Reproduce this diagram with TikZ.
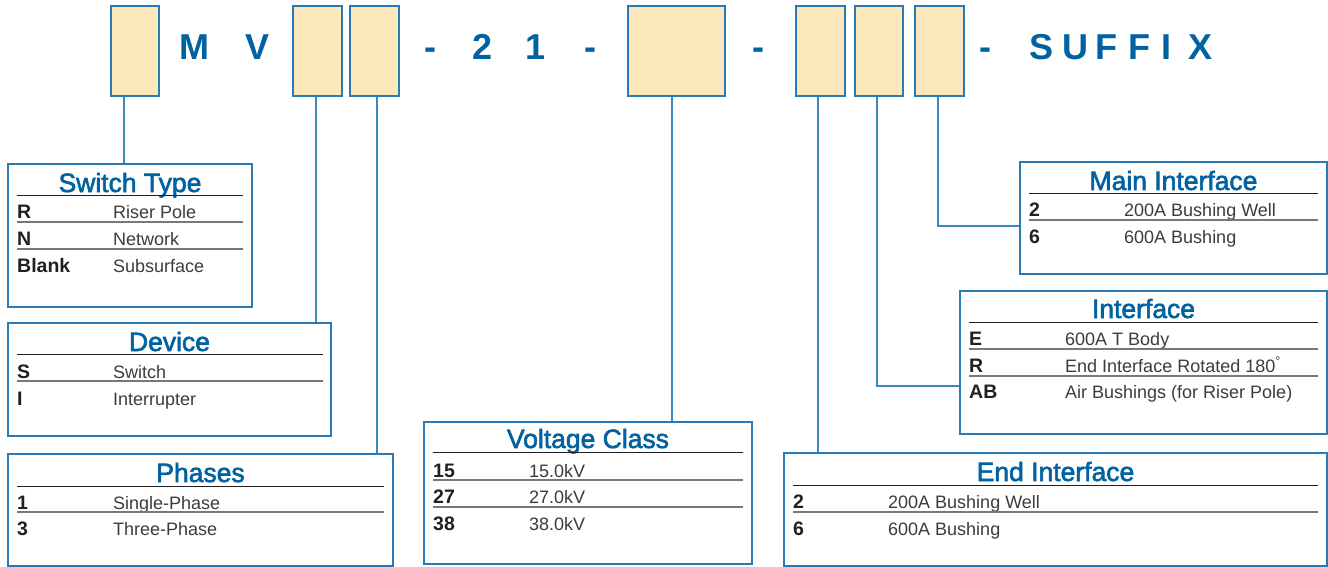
\documentclass[tikz,border=0pt]{standalone}
\usepackage{fontspec}
\setmainfont{Liberation Sans}
\newfontfamily\medfont[FakeBold=2.2]{Liberation Sans}
\definecolor{textblue}{RGB}{0,98,160}
\definecolor{boxblue}{RGB}{40,122,182}
\definecolor{lineblue}{RGB}{58,137,196}
\definecolor{peach}{RGB}{253,232,188}
\definecolor{keyblack}{RGB}{35,31,32}
\definecolor{descgray}{RGB}{60,60,60}
\definecolor{rulegray}{RGB}{120,120,120}
\tikzset{
 codebox/.style={draw=boxblue, fill=peach, line width=1.2pt, inner sep=0, minimum height=90},
 tabbox/.style={draw=boxblue, fill=white, line width=1.2pt, inner sep=0},
 conn/.style={draw=lineblue, line width=1.3pt},
 bigch/.style={text=textblue, font=\fontsize{36}{36}\selectfont\bfseries, inner sep=0, anchor=base},
 ttl/.style={text=textblue, font=\medfont\fontsize{26.5}{30}\selectfont, inner sep=0, anchor=base},
 keytxt/.style={text=keyblack, font=\fontsize{19.5}{20}\selectfont\bfseries, inner sep=0, anchor=base west},
 desctxt/.style={text=descgray, font=\fontsize{18}{20}\selectfont, inner sep=0, anchor=base west},
 tline/.style={draw=keyblack, line width=1pt},
 rline/.style={draw=rulegray, line width=1.2pt},
}
\begin{document}
\begin{tikzpicture}[x=1pt,y=-1pt]
\useasboundingbox[fill=white] (0,0) rectangle (1328,567);
% code boxes
\node[codebox, minimum width=48] (b1) at (135,51) {};
\node[codebox, minimum width=49] (b2) at (317.5,51) {};
\node[codebox, minimum width=49] (b3) at (374.5,51) {};
\node[codebox, minimum width=97] (b4) at (676.5,51) {};
\node[codebox, minimum width=49] (b5) at (820.5,51) {};
\node[codebox, minimum width=48] (b6) at (879,51) {};
\node[codebox, minimum width=49] (b7) at (939.5,51) {};
% code characters
\node[bigch] (cM) at (194,60) {M};
\node[bigch] (cV) at (258,60) {V};
\node[bigch] (d1) at (430,60) {-};
\node[bigch] (c2) at (482.5,60) {2};
\node[bigch] (c1) at (536,60) {1};
\node[bigch] (d2) at (590,60) {-};
\node[bigch] (d3) at (758,60) {-};
\node[bigch] (d4) at (985.5,60) {-};
\node[bigch] (s1) at (1041.5,60) {S};
\node[bigch] (s2) at (1075,60) {U};
\node[bigch] (s3) at (1106,60) {F};
\node[bigch] (s4) at (1139,60) {F};
\node[bigch] (s5) at (1166.5,60) {I};
\node[bigch] (s6) at (1200,60) {X};
% table boxes
\node[tabbox, minimum width=244, minimum height=143] (st) at (130,235.5) {};
\node[tabbox, minimum width=323, minimum height=113] (dev) at (169.5,379.5) {};
\node[tabbox, minimum width=385, minimum height=112] (ph) at (200.5,510) {};
\node[tabbox, minimum width=328, minimum height=142] (vc) at (588,493) {};
\node[tabbox, minimum width=307, minimum height=112] (mi) at (1173.5,218) {};
\node[tabbox, minimum width=367, minimum height=143] (itf) at (1143.5,362.5) {};
\node[tabbox, minimum width=543, minimum height=113] (ei) at (1055.5,509.5) {};
% connectors
\coordinate (x1) at (124,0);
\coordinate (x2) at (316,0);
\coordinate (x3) at (377,0);
\coordinate (x4) at (672,0);
\coordinate (x5) at (818,0);
\coordinate (x6) at (877,386);
\coordinate (x7) at (938,226);
\draw[conn] (b1.south -| x1) -- (st.north -| x1);
\draw[conn] (b2.south -| x2) -- (dev.north -| x2);
\draw[conn] (b3.south -| x3) -- (ph.north -| x3);
\draw[conn] (b4.south -| x4) -- (vc.north -| x4);
\draw[conn] (b5.south -| x5) -- (ei.north -| x5);
\draw[conn] (b6.south -| x6) |- (itf.west |- x6);
\draw[conn] (b7.south -| x7) |- (mi.west |- x7);
% Switch Type
\node[ttl] (stt) at (130,192) {Switch Type};
\draw[tline] (17,195) -- (243,195);
\node[keytxt] (stk1) at (17,218) {R};
\node[desctxt] (std1) at (113,218) {Riser Pole};
\draw[rline] (17,222) -- (243,222);
\node[keytxt] (stk2) at (17,245) {N};
\node[desctxt] (std2) at (113,245) {Network};
\draw[rline] (17,249) -- (243,249);
\node[keytxt] (stk3) at (17,272) {Blank};
\node[desctxt] (std3) at (113,272) {Subsurface};
% Device
\node[ttl] (devt) at (169.5,351) {Device};
\draw[tline] (17,354) -- (323,354);
\node[keytxt] (devk1) at (17,378) {S};
\node[desctxt] (devd1) at (113,378) {Switch};
\draw[rline] (17,381) -- (323,381);
\node[keytxt] (devk2) at (17,405) {I};
\node[desctxt] (devd2) at (113,405) {Interrupter};
% Phases
\node[ttl] (pht) at (200.5,482) {Phases};
\draw[tline] (17,486) -- (384,486);
\node[keytxt] (phk1) at (17,509) {1};
\node[desctxt] (phd1) at (113,509) {Single-Phase};
\draw[rline] (17,512) -- (384,512);
\node[keytxt] (phk2) at (17,535) {3};
\node[desctxt] (phd2) at (113,535) {Three-Phase};
% Voltage Class
\node[ttl] (vct) at (588,448) {Voltage Class};
\draw[tline] (433,452) -- (743,452);
\node[keytxt] (vck1) at (433,477) {15};
\node[desctxt] (vcd1) at (529,477) {15.0kV};
\draw[rline] (433,480) -- (743,480);
\node[keytxt] (vck2) at (433,503) {27};
\node[desctxt] (vcd2) at (529,503) {27.0kV};
\draw[rline] (433,507) -- (743,507);
\node[keytxt] (vck3) at (433,530) {38};
\node[desctxt] (vcd3) at (529,530) {38.0kV};
% Main Interface
\node[ttl] (mit) at (1173.5,190) {Main Interface};
\draw[tline] (1029,193) -- (1318,193);
\node[keytxt] (mik1) at (1029,216) {2};
\node[desctxt] (mid1) at (1124,216) {200A Bushing Well};
\draw[rline] (1029,220) -- (1318,220);
\node[keytxt] (mik2) at (1029,243) {6};
\node[desctxt] (mid2) at (1124,243) {600A Bushing};
% Interface
\node[ttl] (itft) at (1143.5,318) {Interface};
\draw[tline] (969,322) -- (1318,322);
\node[keytxt] (itfk1) at (969,345) {E};
\node[desctxt] (itfd1) at (1065,345) {600A T Body};
\draw[rline] (969,349) -- (1318,349);
\node[keytxt] (itfk2) at (969,372) {R};
\node[desctxt] (itfd2) at (1065,372) {End Interface Rotated 180\textsuperscript{°}};
\draw[rline] (969,376) -- (1318,376);
\node[keytxt] (itfk3) at (969,398) {AB};
\node[desctxt] (itfd3) at (1065,398) {Air Bushings (for Riser Pole)};
% End Interface
\node[ttl] (eit) at (1055.5,481) {End Interface};
\draw[tline] (793,485) -- (1318,485);
\node[keytxt] (eik1) at (793,508) {2};
\node[desctxt] (eid1) at (888,508) {200A Bushing Well};
\draw[rline] (793,512) -- (1318,512);
\node[keytxt] (eik2) at (793,535) {6};
\node[desctxt] (eid2) at (888,535) {600A Bushing};
\end{tikzpicture}
\end{document}
